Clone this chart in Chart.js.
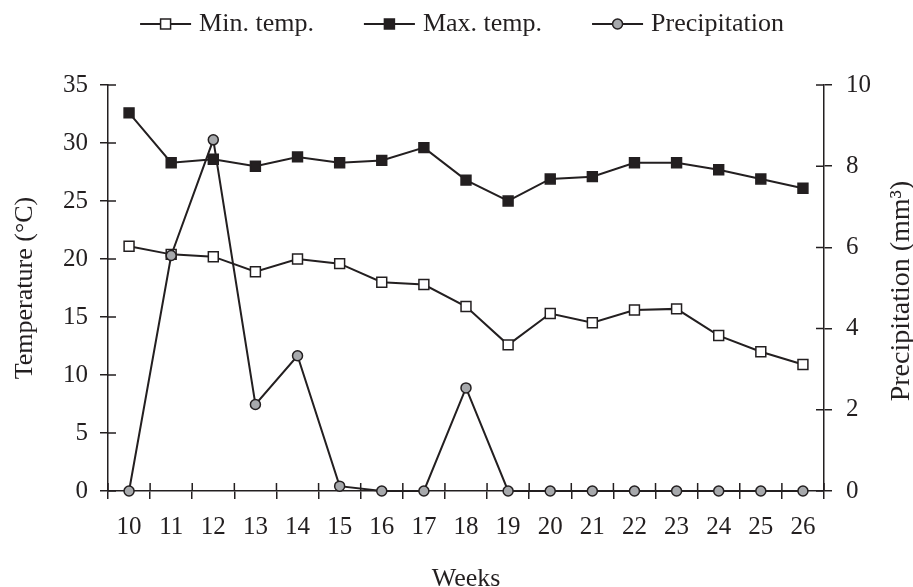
<!DOCTYPE html>
<html lang="en">
<head>
<meta charset="UTF-8">
<title>Temperature and precipitation by week</title>
<script src="https://cdn.jsdelivr.net/npm/chart.js"></script>
<style>
    body { margin: 0; background: #fff; }
    #weekChart { display: block; }
</style>
</head>
<body>
<canvas id="weekChart" width="913" height="587"></canvas>
<script>
    // values
    const weeks = ['10', '11', '12', '13', '14', '15', '16', '17', '18', '19', '20', '21', '22', '23', '24', '25', '26'];
    const minTemp = [21.1, 20.4, 20.2, 18.9, 20.0, 19.6, 18.0, 17.8, 15.9, 12.6, 15.3, 14.5, 15.6, 15.7, 13.4, 12.0, 10.9];
    const maxTemp = [32.6, 28.3, 28.6, 28.0, 28.8, 28.3, 28.5, 29.6, 26.8, 25.0, 26.9, 27.1, 28.3, 28.3, 27.7, 26.9, 26.1];
    const precipitation = [0, 5.8, 8.65, 2.13, 3.33, 0.12, 0, 0, 2.54, 0, 0, 0, 0, 0, 0, 0, 0];
    const tempAxis = [0, 35, 5];     // min, max, step
    const precipAxis = [0, 10, 2];

    const ink = '#231f20';
    const grey = '#a7a9ac';
    const fontFamily = '"Liberation Serif", "Times New Roman", serif';

    // small marks that cross the axis lines (chart.js only draws them outwards)
    const crossTicks = {
        id: 'crossTicks',
        afterDraw(chart) {
            const {ctx, chartArea, scales} = chart;
            ctx.save();
            ctx.strokeStyle = ink;
            ctx.lineWidth = 1.5;
            ctx.beginPath();
            scales.yTemp.ticks.forEach(t => {
                const y = scales.yTemp.getPixelForValue(t.value);
                ctx.moveTo(chartArea.left, y);
                ctx.lineTo(chartArea.left + 8, y);
            });
            scales.yRain.ticks.forEach(t => {
                const y = scales.yRain.getPixelForValue(t.value);
                ctx.moveTo(chartArea.right, y);
                ctx.lineTo(chartArea.right - 8, y);
            });
            for (let i = 0; i <= weeks.length; i++) {
                const x = scales.x.getPixelForValue(i - 0.5);
                ctx.moveTo(x, chartArea.bottom);
                ctx.lineTo(x, chartArea.bottom - 8);
            }
            ctx.stroke();
            ctx.restore();
        }
    };

    // legend with line + marker, like the printed figure
    const lineLegend = {
        id: 'lineLegend',
        afterDraw(chart) {
            const ctx = chart.ctx;
            const items = chart.data.datasets;
            ctx.save();
            ctx.font = '26px ' + fontFamily;
            ctx.textBaseline = 'middle';
            const lineLen = 51, gap = 8, spacing = 50;
            let total = 0;
            items.forEach((ds, i) => {
                total += lineLen + gap + ctx.measureText(ds.label).width + (i ? spacing : 0);
            });
            let x = 462 - total / 2;
            const y = 24;
            items.forEach(ds => {
                ctx.strokeStyle = ink;
                ctx.lineWidth = 2;
                ctx.beginPath();
                ctx.moveTo(x, y);
                ctx.lineTo(x + lineLen, y);
                ctx.stroke();
                const cx = x + lineLen / 2;
                ctx.fillStyle = ds.pointBackgroundColor;
                ctx.lineWidth = 1.5;
                ctx.beginPath();
                if (ds.pointStyle === 'circle') {
                    ctx.arc(cx, y, 5, 0, Math.PI * 2);
                } else {
                    ctx.rect(cx - 5, y - 5, 10, 10);
                }
                ctx.fill();
                ctx.stroke();
                ctx.fillStyle = ink;
                ctx.fillText(ds.label, x + lineLen + gap, y);
                x += lineLen + gap + ctx.measureText(ds.label).width + spacing;
            });

            // right axis title reads bottom to top in the original
            const area = chart.chartArea;
            ctx.font = '28px ' + fontFamily;
            ctx.translate(902, (area.top + area.bottom) / 2 + 3);
            ctx.rotate(-Math.PI / 2);
            ctx.textAlign = 'center';
            ctx.fillText('Precipitation (mm³)', 0, 0);
            ctx.restore();
        }
    };

    const axisLook = {
        border: { display: true, color: ink, width: 1.5 },
        grid: { drawOnChartArea: false, drawTicks: true, tickLength: 8, color: ink, lineWidth: 1.5 }
    };

    new Chart(document.getElementById('weekChart'), {
        type: 'line',
        data: {
            labels: weeks,
            datasets: [
                {
                    label: 'Min. temp.',
                    data: minTemp,
                    yAxisID: 'yTemp',
                    borderColor: ink,
                    borderWidth: 2,
                    pointStyle: 'rect',
                    pointRadius: 7,
                    pointBackgroundColor: '#ffffff',
                    pointBorderColor: ink,
                    pointBorderWidth: 1.5,
                    clip: false,
                    order: 2
                },
                {
                    label: 'Max. temp.',
                    data: maxTemp,
                    yAxisID: 'yTemp',
                    borderColor: ink,
                    borderWidth: 2,
                    pointStyle: 'rect',
                    pointRadius: 7,
                    pointBackgroundColor: ink,
                    pointBorderColor: ink,
                    pointBorderWidth: 1.5,
                    clip: false,
                    order: 1
                },
                {
                    label: 'Precipitation',
                    data: precipitation,
                    yAxisID: 'yRain',
                    borderColor: ink,
                    borderWidth: 2,
                    pointStyle: 'circle',
                    pointRadius: 5,
                    pointBackgroundColor: grey,
                    pointBorderColor: ink,
                    pointBorderWidth: 1.5,
                    clip: false,
                    order: 0
                }
            ]
        },
        options: {
            responsive: false,
            animation: false,
            layout: { padding: { top: 85, left: 0, right: 0, bottom: 0 } },
            plugins: {
                legend: { display: false },
                tooltip: { enabled: false }
            },
            scales: {
                x: {
                    ...axisLook,
                    offset: true,
                    grid: { ...axisLook.grid, offset: true },
                    ticks: { color: ink, font: { family: fontFamily, size: 25 }, padding: 13, maxRotation: 0, autoSkip: false },
                    title: { display: true, text: 'Weeks', color: ink, font: { family: fontFamily, size: 26 }, padding: { top: 0, bottom: -8 } },
                    afterFit(scale) { scale.height = 96; }
                },
                yTemp: {
                    ...axisLook,
                    position: 'left',
                    min: tempAxis[0],
                    max: tempAxis[1],
                    ticks: { stepSize: tempAxis[2], color: ink, font: { family: fontFamily, size: 25 }, padding: 12 },
                    title: { display: true, text: 'Temperature (°C)', color: ink, font: { family: fontFamily, size: 26 }, padding: { top: 10, bottom: 0 } },
                    afterFit(scale) { scale.width = 108; }
                },
                yRain: {
                    ...axisLook,
                    position: 'right',
                    min: precipAxis[0],
                    max: precipAxis[1],
                    ticks: { stepSize: precipAxis[2], color: ink, font: { family: fontFamily, size: 25 }, padding: 14 },
                    afterFit(scale) { scale.width = 89; }
                }
            }
        },
        plugins: [crossTicks, lineLegend]
    });
</script>
</body>
</html>
